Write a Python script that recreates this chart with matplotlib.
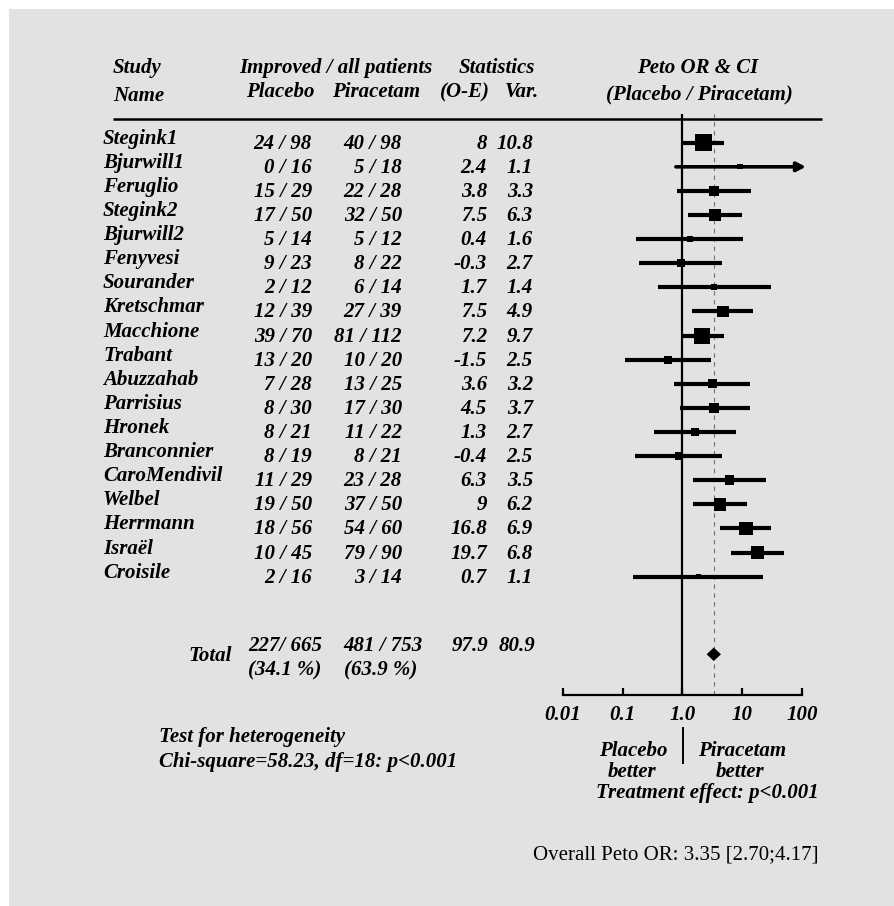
import numpy as np
import matplotlib
matplotlib.use("Agg")
import matplotlib.pyplot as plt
from matplotlib.patches import Rectangle
from matplotlib.ticker import NullLocator

# study data
studies = ['Stegink1', 'Bjurwill1', 'Feruglio', 'Stegink2', 'Bjurwill2', 'Fenyvesi',
           'Sourander', 'Kretschmar', 'Macchione', 'Trabant', 'Abuzzahab', 'Parrisius',
           'Hronek', 'Branconnier', 'CaroMendivil', 'Welbel', 'Herrmann', 'Israël', 'Croisile']
placebo_imp = [24, 0, 15, 17, 5, 9, 2, 12, 39, 13, 7, 8, 8, 8, 11, 19, 18, 10, 2]
placebo_n = [98, 16, 29, 50, 14, 23, 12, 39, 70, 20, 28, 30, 21, 19, 29, 50, 56, 45, 16]
pira_imp = [40, 5, 22, 32, 5, 8, 6, 27, 81, 10, 13, 17, 11, 8, 23, 37, 54, 79, 3]
pira_n = [98, 18, 28, 50, 12, 22, 14, 39, 112, 20, 25, 30, 22, 21, 28, 50, 60, 90, 14]
o_minus_e = [8, 2.4, 3.8, 7.5, 0.4, -0.3, 1.7, 7.5, 7.2, -1.5, 3.6, 4.5, 1.3, -0.4, 6.3, 9, 16.8, 19.7, 0.7]
variance = [10.8, 1.1, 3.3, 6.3, 1.6, 2.7, 1.4, 4.9, 9.7, 2.5, 3.2, 3.7, 2.7, 2.5, 3.5, 6.2, 6.9, 6.8, 1.1]

# totals as printed
total_placebo = '227/ 665'
total_placebo_pct = '(34.1 %)'
total_pira = '481 / 753'
total_pira_pct = '(63.9 %)'
total_oe = 97.9
total_var = 80.9

# odds ratios and CI
peto_or = [2.24, 9.2, 3.39, 3.52, 1.35, 0.95, 3.39, 4.8, 2.16, 0.57, 3.22, 3.43, 1.63, 0.87, 6.1, 4.27, 11.5, 17.9, 1.88]
ci_lo = [1.03, 0.78, 0.82, 1.25, 0.17, 0.19, 0.39, 1.47, 0.96, 0.11, 0.73, 0.91, 0.34, 0.16, 1.51, 1.51, 4.2, 6.6, 0.15]
ci_hi = [4.98, 116, 14.1, 9.8, 10.5, 4.6, 30, 15.4, 5.0, 2.98, 13.7, 13.4, 8.0, 4.6, 24.8, 12.2, 30.8, 49.6, 22.6]

overall_or = 3.35
overall_lo = 2.70
overall_hi = 4.17

tick_vals = [0.01, 0.1, 1, 10, 100]
tick_labels = ['0.01', '0.1', '1.0', '10', '100']

plt.rcParams['font.family'] = 'serif'
plt.rcParams['font.serif'] = ['Liberation Serif', 'DejaVu Serif']
plt.rcParams['font.weight'] = 'bold'
plt.rcParams['font.style'] = 'italic'
plt.rcParams['font.size'] = 15

W, H = 895, 906
fig = plt.figure(figsize=(W / 100, H / 100), dpi=100)
fig.patch.set_facecolor('white')

# text layer in pixel coordinates
tx = fig.add_axes([0, 0, 1, 1])
tx.set_xlim(0, W)
tx.set_ylim(H, 0)
tx.axis('off')
tx.add_patch(Rectangle((9, 9), W, H, facecolor='#e2e2e2', edgecolor='none', zorder=0))

# forest plot axes
row0, dy = 142.7, 24.11          # pixel y of first row, row spacing
top_px, axis_px = 114, 695
x001, x100 = 562.7, 802.0
fa = fig.add_axes([x001 / W, (H - axis_px) / H, (x100 - x001) / W, (axis_px - top_px) / H])
fa.patch.set_alpha(0)
fa.set_xscale('log')
fa.set_xlim(0.01, 100)
fa.set_ylim((axis_px - row0) / dy, (top_px - row0) / dy)

rows = np.arange(len(studies))

def row_px(i):
    return row0 + dy * i

# headers
tx.text(113, 68, 'Study', ha='left', va='center')
tx.text(113, 96, 'Name', ha='left', va='center')
tx.text(336, 68, 'Improved / all patients', ha='center', va='center')
tx.text(280, 92, 'Placebo', ha='center', va='center')
tx.text(376, 92, 'Piracetam', ha='center', va='center')
tx.text(497, 68, 'Statistics', ha='center', va='center')
tx.text(465, 92, '(O-E)', ha='center', va='center')
tx.text(522, 92, 'Var.', ha='center', va='center')
tx.text(698, 68, 'Peto OR & CI', ha='center', va='center')
tx.text(699, 94, '(Placebo / Piracetam)', ha='center', va='center')
tx.plot([113, 822], [119, 119], color='k', lw=1.8, solid_capstyle='butt')

# table rows
for i in rows:
    y = row_px(i)
    tx.text(103, y - 4, studies[i], ha='left', va='center')
    tx.text(312, y + 1, f'{placebo_imp[i]} / {placebo_n[i]}', ha='right', va='center')
    tx.text(402, y + 1, f'{pira_imp[i]} / {pira_n[i]}', ha='right', va='center')
    tx.text(487, y + 1, f'{o_minus_e[i]:g}', ha='right', va='center')
    tx.text(533, y + 1, f'{variance[i]:g}', ha='right', va='center')

# totals
tx.text(232, 656, 'Total', ha='right', va='center')
tx.text(248, 646, total_placebo, ha='left', va='center')
tx.text(248, 670, total_placebo_pct, ha='left', va='center')
tx.text(343, 646, total_pira, ha='left', va='center')
tx.text(344, 670, total_pira_pct, ha='left', va='center')
tx.text(488, 646, f'{total_oe:.1f}', ha='right', va='center')
tx.text(535, 646, f'{total_var:.1f}', ha='right', va='center')

tx.text(159, 737, 'Test for heterogeneity', ha='left', va='center')
tx.text(159, 762, 'Chi-square=58.23, df=18: p<0.001', ha='left', va='center')

# forest marks
fa.axvline(1, color='k', lw=1.6, zorder=2)
fa.axvline(overall_or, color='0.45', lw=0.8, ls=(0, (4, 4)), zorder=1)

for i in rows:
    if ci_hi[i] > 100:
        fa.annotate('', xy=(ci_hi[i], i), xytext=(ci_lo[i], i),
                    arrowprops=dict(arrowstyle='-|>,head_length=0.35,head_width=0.18',
                                    color='k', lw=2.6, shrinkA=0, shrinkB=0),
                    annotation_clip=False)
    else:
        fa.plot([ci_lo[i], ci_hi[i]], [i, i], color='k', lw=3.0, solid_capstyle='butt',
                clip_on=False, zorder=3)

side_px = 5.1 * np.sqrt(variance)
fa.scatter(peto_or, rows, marker='s', s=(side_px * 0.72) ** 2, color='k',
           linewidths=0, zorder=4, clip_on=False)

yd = (654.3 - row0) / dy
hd = 0.22
fa.fill([overall_lo, overall_or, overall_hi, overall_or], [yd, yd - hd, yd, yd + hd],
        color='k', lw=1.5, zorder=4)

for s in ['top', 'left', 'right']:
    fa.spines[s].set_visible(False)
fa.spines['bottom'].set_linewidth(1.6)
fa.set_yticks([])
fa.set_xticks(tick_vals)
fa.set_xticklabels(tick_labels)
fa.xaxis.set_minor_locator(NullLocator())
fa.tick_params(axis='x', direction='in', length=5, width=1.6, pad=7, labelsize=15)

# effect labels below the axis
tx.text(633, 751, 'Placebo', ha='center', va='center')
tx.text(632, 772, 'better', ha='center', va='center')
tx.text(742, 751, 'Piracetam', ha='center', va='center')
tx.text(740, 772, 'better', ha='center', va='center')
tx.plot([683, 683], [728, 763], color='k', lw=1.4)
tx.text(707, 793, 'Treatment effect: p<0.001', ha='center', va='center')

tx.text(533, 855, f'Overall Peto OR: {overall_or:.2f} [{overall_lo:.2f};{overall_hi:.2f}]',
        ha='left', va='center', fontweight='normal', fontstyle='normal')

fig.savefig('out.png', dpi=100, facecolor=fig.get_facecolor())
